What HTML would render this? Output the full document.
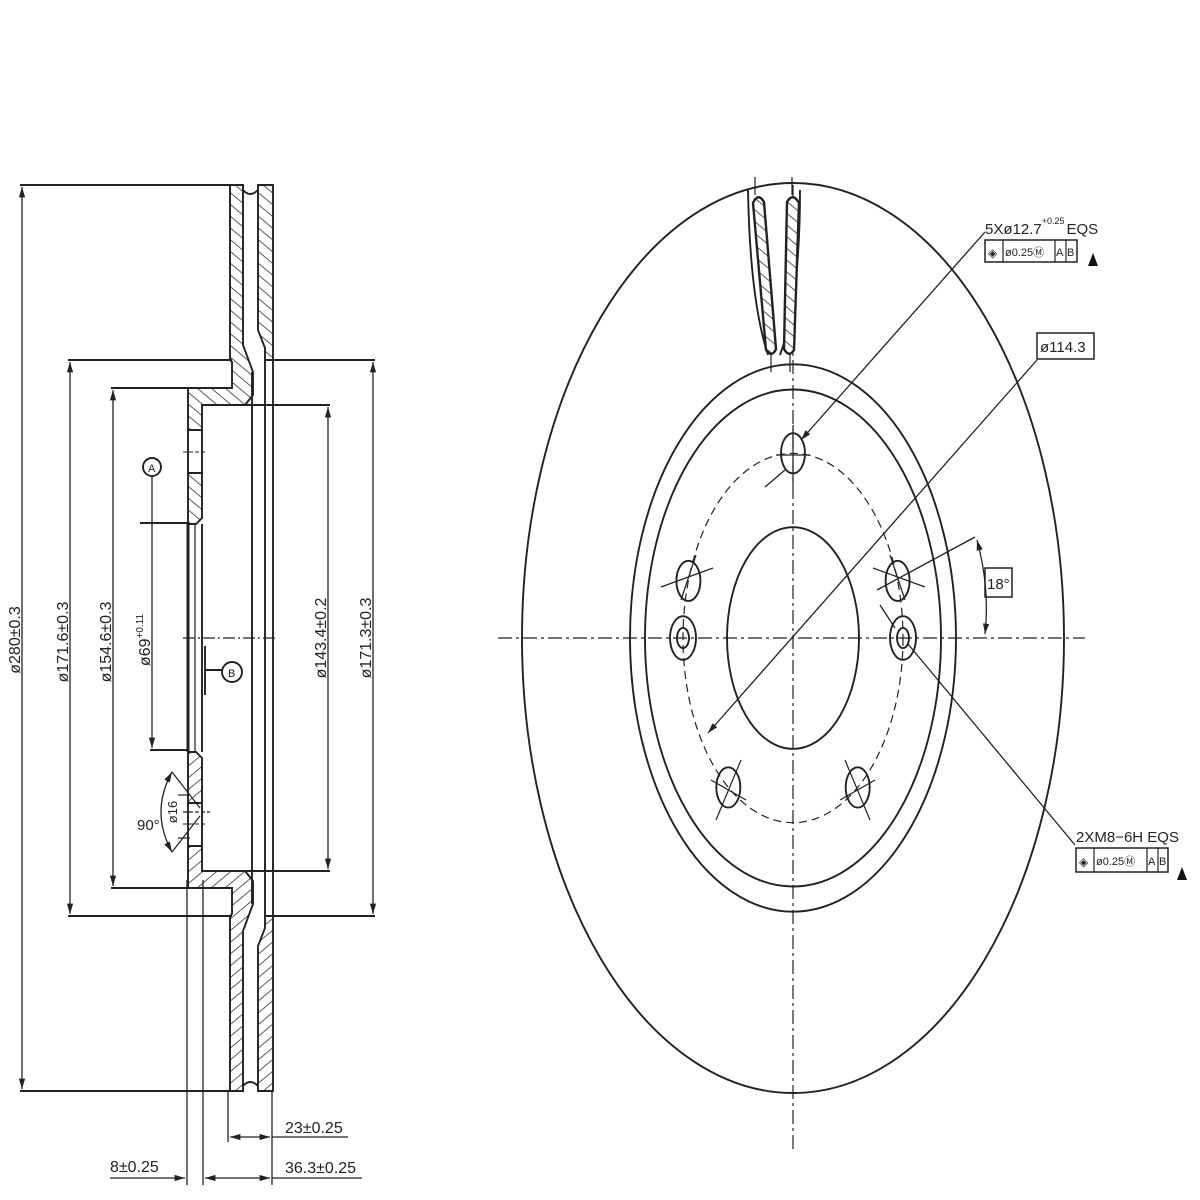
<!DOCTYPE html>
<html><head><meta charset="utf-8"><style>
html,body{margin:0;padding:0;background:#fff;}
svg{display:block;}
text{font-family:"Liberation Sans",sans-serif;fill:#222;}
</style></head><body>
<svg width="1200" height="1200" viewBox="0 0 1200 1200" xmlns="http://www.w3.org/2000/svg">
<defs>
<pattern id="h" patternUnits="userSpaceOnUse" width="9" height="9" patternTransform="rotate(-50)">
<rect width="9" height="9" fill="#fff"/><line x1="0" y1="0" x2="0" y2="9" stroke="#333" stroke-width="1.6"/>
</pattern>
<marker id="ar" viewBox="0 0 10 10" refX="10" refY="5" markerWidth="8" markerHeight="8" orient="auto-start-reverse"><path d="M0,2 L10,5 L0,8 z" fill="#222"/></marker>
</defs>
<rect width="1200" height="1200" fill="#fff"/>

<!-- LEFT SECTION -->
<g stroke="#222" stroke-width="1.9" fill="none">
<g id="half">
<path d="M230,185 L243,185 L243,345 L253,372 L253,395 L245,405 L202,405 L202,430 L188,430 L188,388 L232,388 L232,362 L230,360 Z" fill="url(#h)"/>
<path d="M188,473 L202,473 L202,518 L196,524 L188,524 Z" fill="url(#h)"/>
<path d="M258,185 L273,185 L273,360 L265,360 L265,348 L258,330 Z" fill="url(#h)"/>
<path d="M243,190 Q250,198 258,190"/>
<rect x="188" y="430" width="14" height="43"/>
<line x1="183" y1="452" x2="207" y2="452" stroke-dasharray="4,2" stroke-width="1"/>
</g>
<use href="#half" transform="translate(0,1276) scale(1,-1)"/>
<line x1="252" y1="372" x2="252" y2="904"/>
<line x1="265" y1="360" x2="265" y2="916"/>
<line x1="273" y1="360" x2="273" y2="916"/>
<line x1="188" y1="524" x2="188" y2="752" stroke-width="3"/>
<line x1="195" y1="524" x2="195" y2="752" stroke-width="1.2"/>
<line x1="202" y1="524" x2="202" y2="752"/>
<line x1="205" y1="646" x2="205" y2="695"/>
<line x1="205" y1="670" x2="222" y2="670"/>
<circle cx="232" cy="672" r="10"/>
<circle cx="152" cy="467" r="9"/>
<line x1="183" y1="638" x2="277" y2="638" stroke-dasharray="12,3,2,3" stroke-width="1.2"/>
<line x1="20" y1="185" x2="230" y2="185"/>
<line x1="20" y1="1091" x2="230" y2="1091"/>
<line x1="22" y1="187" x2="22" y2="1089" marker-start="url(#ar)" marker-end="url(#ar)" stroke-width="1.3"/>
<line x1="68" y1="360" x2="232" y2="360"/>
<line x1="68" y1="916" x2="232" y2="916"/>
<line x1="70" y1="362" x2="70" y2="914" marker-start="url(#ar)" marker-end="url(#ar)" stroke-width="1.3"/>
<line x1="111" y1="388" x2="188" y2="388"/>
<line x1="111" y1="888" x2="188" y2="888"/>
<line x1="113" y1="390" x2="113" y2="886" marker-start="url(#ar)" marker-end="url(#ar)" stroke-width="1.3"/>
<line x1="140" y1="523" x2="188" y2="523"/>
<line x1="150" y1="750" x2="188" y2="750"/>
<line x1="152" y1="476" x2="152" y2="748" marker-end="url(#ar)" stroke-width="1.3"/>
<line x1="245" y1="405" x2="330" y2="405"/>
<line x1="245" y1="871" x2="330" y2="871"/>
<line x1="328" y1="407" x2="328" y2="869" marker-start="url(#ar)" marker-end="url(#ar)" stroke-width="1.3"/>
<line x1="273" y1="360" x2="375" y2="360"/>
<line x1="273" y1="916" x2="375" y2="916"/>
<line x1="373" y1="362" x2="373" y2="914" marker-start="url(#ar)" marker-end="url(#ar)" stroke-width="1.3"/>
<path d="M172,772 Q150,812 172,852" marker-start="url(#ar)" marker-end="url(#ar)" stroke-width="1.3"/>
<line x1="172" y1="772" x2="200" y2="808" stroke-width="1.2"/>
<line x1="172" y1="852" x2="200" y2="816" stroke-width="1.2"/>
<line x1="178" y1="795" x2="190" y2="795" stroke-width="1.2"/>
<line x1="178" y1="838" x2="190" y2="838" stroke-width="1.2"/>
<line x1="183" y1="812" x2="210" y2="812" stroke-width="1.2" stroke-dasharray="4,2"/>
<line x1="187" y1="880" x2="187" y2="1185" stroke-width="1.3"/>
<line x1="203" y1="880" x2="203" y2="1185" stroke-width="1.3"/>
<line x1="228" y1="1091" x2="228" y2="1142" stroke-width="1.3"/>
<line x1="272" y1="1091" x2="272" y2="1185" stroke-width="1.3"/>
<line x1="230" y1="1137" x2="270" y2="1137" marker-start="url(#ar)" marker-end="url(#ar)" stroke-width="1.3"/>
<line x1="272" y1="1137" x2="348" y2="1137" stroke-width="1.3"/>
<line x1="110" y1="1178" x2="185" y2="1178" marker-end="url(#ar)" stroke-width="1.3"/>
<line x1="205" y1="1178" x2="270" y2="1178" marker-start="url(#ar)" marker-end="url(#ar)" stroke-width="1.3"/>
<line x1="272" y1="1178" x2="362" y2="1178" stroke-width="1.3"/>
</g>
<g font-size="16">
<text transform="translate(20,640) rotate(-90)" text-anchor="middle">ø280±0.3</text>
<text transform="translate(68,642) rotate(-90)" text-anchor="middle">ø171.6±0.3</text>
<text transform="translate(111,642) rotate(-90)" text-anchor="middle">ø154.6±0.3</text>
<text transform="translate(150,640) rotate(-90)" text-anchor="middle">ø69<tspan font-size="10" dy="-7">+0.11</tspan></text>
<text transform="translate(326,638) rotate(-90)" text-anchor="middle">ø143.4±0.2</text>
<text transform="translate(371,638) rotate(-90)" text-anchor="middle">ø171.3±0.3</text>
<text transform="translate(177,812) rotate(-90)" text-anchor="middle" font-size="13">ø16</text>
<text x="137" y="830" font-size="15">90°</text>
<text x="148" y="472" font-size="11">A</text>
<text x="228" y="677" font-size="11">B</text>
<text x="285" y="1133">23±0.25</text>
<text x="110" y="1172">8±0.25</text>
<text x="285" y="1173">36.3±0.25</text>
</g>

<!-- RIGHT VIEW -->
<g stroke="#222" stroke-width="1.9" fill="none">
<g transform="translate(793,638) scale(1,1.679)">
<circle r="271" vector-effect="non-scaling-stroke"/>
<circle r="163" vector-effect="non-scaling-stroke"/>
<circle r="148" vector-effect="non-scaling-stroke"/>
<circle r="110" stroke-dasharray="8,5" stroke-width="1.2" vector-effect="non-scaling-stroke"/>
<circle r="66" vector-effect="non-scaling-stroke"/>
<circle cx="0" cy="-110" r="12" vector-effect="non-scaling-stroke"/>
<circle cx="104.6" cy="-34" r="12" vector-effect="non-scaling-stroke"/>
<circle cx="-104.6" cy="-34" r="12" vector-effect="non-scaling-stroke"/>
<circle cx="64.7" cy="89" r="12" vector-effect="non-scaling-stroke"/>
<circle cx="-64.7" cy="89" r="12" vector-effect="non-scaling-stroke"/>
<circle cx="110" cy="0" r="13" vector-effect="non-scaling-stroke"/>
<circle cx="110" cy="0" r="6" vector-effect="non-scaling-stroke"/>
<circle cx="-110" cy="0" r="13" vector-effect="non-scaling-stroke"/>
<circle cx="-110" cy="0" r="6" vector-effect="non-scaling-stroke"/>
</g>
<line x1="498" y1="638" x2="1085" y2="638" stroke-dasharray="14,4,3,4" stroke-width="1.2"/>
<line x1="793" y1="185" x2="793" y2="1150" stroke-dasharray="14,4,3,4" stroke-width="1.2"/>
<g stroke-width="1.2">
<line x1="793" y1="425" x2="793" y2="485"/><line x1="776" y1="455" x2="810" y2="455"/>
<line x1="873" y1="568" x2="925" y2="587"/><line x1="890" y1="555" x2="905" y2="600"/>
<line x1="713" y1="568" x2="661" y2="587"/><line x1="696" y1="555" x2="681" y2="600"/>
<line x1="845" y1="760" x2="870" y2="820"/><line x1="840" y1="800" x2="875" y2="780"/>
<line x1="741" y1="760" x2="716" y2="820"/><line x1="746" y1="800" x2="711" y2="780"/>
</g>
<path d="M748,190 Q750,300 768,355"/>
<path d="M800,190 Q800,300 780,355"/>
<line x1="755" y1="177" x2="755" y2="195" stroke-width="1.2"/>
<line x1="792" y1="177" x2="792" y2="195" stroke-width="1.2"/>
<line x1="771" y1="355" x2="771" y2="372" stroke-width="1.2"/>
<line x1="790" y1="355" x2="790" y2="372" stroke-width="1.2"/>
<path d="M753,203 Q758,192 764,202 L776,349 Q772,358 766,350 Z" fill="url(#h)" stroke-width="2.4"/>
<path d="M787,202 Q793,192 799,203 L794,350 Q789,358 784,349 Z" fill="url(#h)" stroke-width="2.4"/>
<line x1="985" y1="232" x2="801" y2="440" marker-end="url(#ar)" stroke-width="1.3"/>
<line x1="785" y1="470" x2="765" y2="487" stroke-width="1.3"/>
<line x1="1037" y1="360" x2="708" y2="733" marker-end="url(#ar)" stroke-width="1.3"/>
<line x1="1075" y1="845" x2="908" y2="644" stroke-width="1.3"/>
<line x1="895" y1="628" x2="880" y2="605" stroke-width="1.3"/>
<line x1="877" y1="590" x2="975" y2="537" stroke-width="1.3"/>
<path d="M977,540 Q990,588 985,634" marker-start="url(#ar)" marker-end="url(#ar)" stroke-width="1.3"/>
<rect x="985" y="240" width="92" height="22" stroke-width="1.5"/>
<line x1="1003" y1="240" x2="1003" y2="262" stroke-width="1.2"/>
<line x1="1055" y1="240" x2="1055" y2="262" stroke-width="1.2"/>
<line x1="1066" y1="240" x2="1066" y2="262" stroke-width="1.2"/>
<rect x="1037" y="333" width="57" height="26" stroke-width="1.5"/>
<rect x="985" y="568" width="27" height="29" stroke-width="1.5"/>
<rect x="1076" y="848" width="92" height="24" stroke-width="1.5"/>
<line x1="1094" y1="848" x2="1094" y2="872" stroke-width="1.2"/>
<line x1="1147" y1="848" x2="1147" y2="872" stroke-width="1.2"/>
<line x1="1158" y1="848" x2="1158" y2="872" stroke-width="1.2"/>
</g>
<path d="M1088,266 L1093,253 L1098,266 Z" fill="#111"/>
<path d="M1177,880 L1182,867 L1187,880 Z" fill="#111"/>
<g font-size="15">
<text x="985" y="234">5Xø12.7<tspan font-size="9" dy="-10">+0.25</tspan><tspan dy="10" dx="2">EQS</tspan></text>
<text x="988" y="257" font-size="12">◈</text>
<text x="1005" y="256" font-size="11">ø0.25Ⓜ</text>
<text x="1056" y="256" font-size="11">A</text><text x="1067" y="256" font-size="11">B</text>
<text x="1040" y="352">ø114.3</text>
<text x="987" y="589">18°</text>
<text x="1076" y="842">2XM8−6H  EQS</text>
<text x="1079" y="866" font-size="12">◈</text>
<text x="1096" y="865" font-size="11">ø0.25Ⓜ</text>
<text x="1148" y="865" font-size="11">A</text><text x="1159" y="865" font-size="11">B</text>
</g>
</svg>
</body></html>
